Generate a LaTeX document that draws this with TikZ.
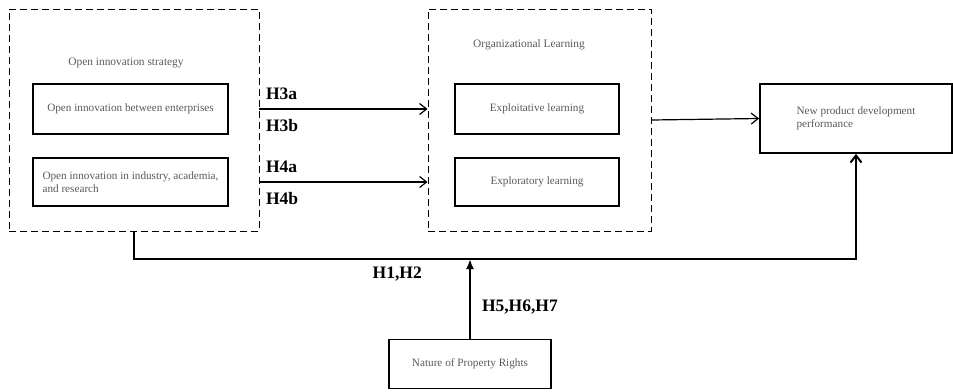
\documentclass[tikz,border=0pt]{standalone}
\usepackage{fontspec}
\setmainfont{Liberation Serif}
\usetikzlibrary{positioning,arrows.meta}

\tikzset{
  group/.style={draw, line width=0.9pt, dash pattern=on 7pt off 4pt, inner sep=0pt},
  factor/.style={draw, line width=1.8pt, inner sep=2pt, text=black!65,
    font=\fontsize{11.2}{13}\selectfont},
  caption/.style={text=black!65, font=\fontsize{11.4}{13}\selectfont},
  hyp/.style={font=\fontsize{17.5}{19}\selectfont\bfseries, inner sep=0pt},
  link/.style={line width=1.2pt, -{Straight Barb[length=7pt, width=11pt, line width=1.2pt]}},
  bus/.style={line width=2pt}
}

\begin{document}
\begin{tikzpicture}[x=1pt, y=-1pt]
  \useasboundingbox (0,0) rectangle (953,391);

  % open innovation strategy
  \node [group, minimum width=250pt, minimum height=222pt] (ois) at (134,120) {};
  \node [caption] (oistitle) at (126,63) {Open innovation strategy};
  \node [factor, minimum width=195pt, minimum height=50pt] (oibe) at (130.5,109)
    {Open innovation between enterprises};
  \node [factor, minimum width=195pt, minimum height=48pt, align=left] (oiar) at (130.5,182)
    {Open innovation in industry, academia,\\and research};

  % organizational learning
  \node [group, minimum width=223pt, minimum height=222pt] (orgl) at (539.5,120) {};
  \node [caption] (orgltitle) at (529,45) {Organizational Learning};
  \node [factor, minimum width=164pt, minimum height=50pt] (exploit) at (537,109)
    {Exploitative learning};
  \node [factor, minimum width=164pt, minimum height=48pt] (explore) at (537,182)
    {Exploratory learning};

  % outcome and moderator
  \node [factor, minimum width=192pt, minimum height=69pt, align=left] (npd) at (856,118.5)
    {New product development\\performance};
  \node [factor, minimum width=162pt, minimum height=49pt] (npr) at (470,364)
    {Nature of Property Rights};

  \coordinate (junction) at (npr.north |- 0,259);

  \draw [link] (oibe -| ois.east)
    -- node [hyp, pos=0, above right=9pt and 6pt, anchor=south west] (h3a) {H3a}
       node [hyp, pos=0, below right=10pt and 6pt, anchor=north west] (h3b) {H3b}
    (oibe -| orgl.west);
  \draw [link] (oiar -| ois.east)
    -- node [hyp, pos=0, above right=9pt and 6pt, anchor=south west] (h4a) {H4a}
       node [hyp, pos=0, below right=10pt and 6pt, anchor=north west] (h4b) {H4b}
    (oiar -| orgl.west);
  \draw [link] (orgl.east) -- (npd.west);

  \draw [bus, -{Straight Barb[length=7pt, width=11pt, line width=2pt]}]
    (ois.south) |- (junction) -| (npd.south);
  \node [hyp, below left=8pt and 48pt of junction, anchor=north east] (h12) {H1,H2};

  \draw [bus, -{Latex[length=10pt, width=8pt]}] (npr.north)
    -- node [hyp, pos=0.4, right=11pt, anchor=west] (h567) {H5,H6,H7} (junction);
\end{tikzpicture}
\end{document}
